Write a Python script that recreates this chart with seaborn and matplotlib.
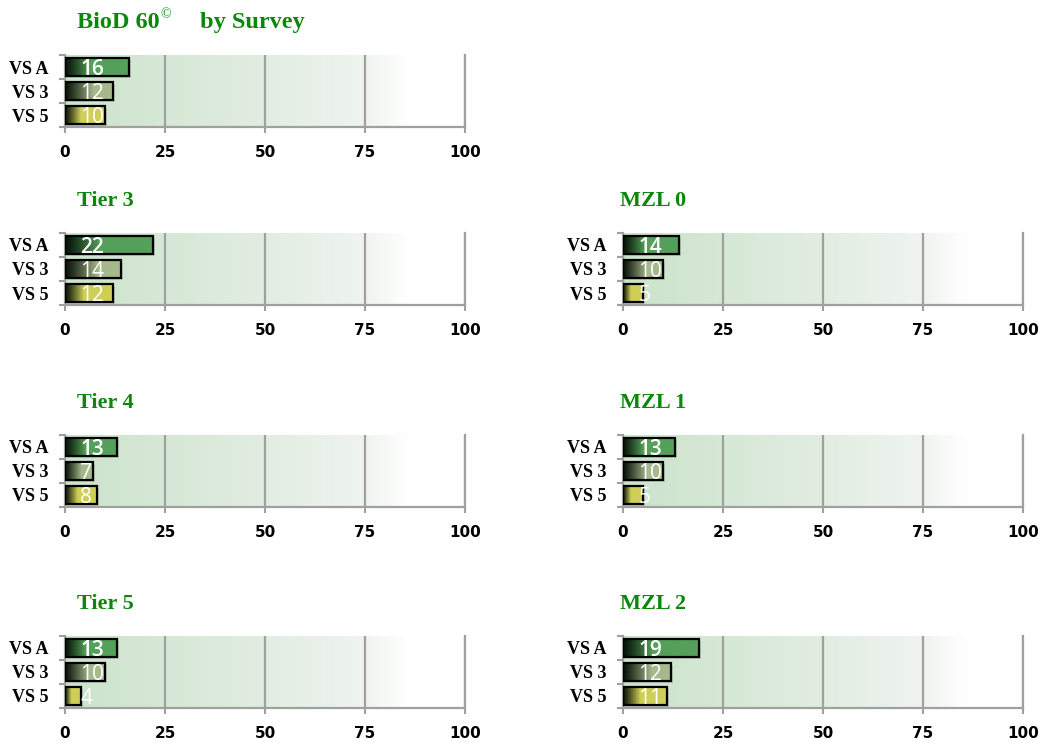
import numpy as np
import pandas as pd
import matplotlib
matplotlib.use("Agg")
import matplotlib.pyplot as plt
from matplotlib.patches import Rectangle
import seaborn as sns

# Survey groups shown on every panel (top to bottom)
categories = ["VS A", "VS 3", "VS 5"]

# Panel titles and the counts per survey group
panel_titles = ["BioD 60", "Tier 3", "MZL 0", "Tier 4", "MZL 1", "Tier 5", "MZL 2"]
biod60 = [16, 12, 10]
tier3 = [22, 14, 12]
mzl0 = [14, 10, 5]
tier4 = [13, 7, 8]
mzl1 = [13, 10, 5]
tier5 = [13, 10, 4]
mzl2 = [19, 12, 11]
panel_values = [biod60, tier3, mzl0, tier4, mzl1, tier5, mzl2]

x_ticks = [0, 25, 50, 75, 100]

sns.set_style("white")
plt.rcParams["font.family"] = ["DejaVu Sans"]

W, H = 1044, 744
fig = plt.figure(figsize=(W / 100, H / 100), dpi=100)

# layout in pixels: (left, top) of each plot area
col_left = [65, 623]
row_top = [55, 233, 435, 636]
ax_w, ax_h = 400, 72
grid_pos = [(0, 0), (0, 1), (1, 1), (0, 2), (1, 2), (0, 3), (1, 3)]

bar_colors = ["#55a05a", "#a6b98c", "#cfcf58"]
ramp_frac = [0.4, 0.6, 0.4]
title_green = "#0b870b"
axis_gray = "#a0a0a0"

# soft green wash behind the bars, fading to white on the right
t = np.linspace(0, 1, 512)
anchors = [0, 0.25, 0.5, 0.75, 0.86, 1.0]
bg = np.stack([
    np.interp(t, anchors, [203, 214, 226, 239, 255, 255]),
    np.interp(t, anchors, [227, 232, 237, 244, 255, 255]),
    np.interp(t, anchors, [203, 214, 226, 239, 255, 255]),
], axis=-1)[None, :, :] / 255.0


def bar_gradient(color, frac):
    rgb = np.array(matplotlib.colors.to_rgb(color))
    dark = np.array([0.02, 0.06, 0.02])
    m = np.clip(t / frac, 0, 1) ** 1.1
    arr = dark[None, :] * (1 - m[:, None]) + rgb[None, :] * m[:, None]
    return arr[None, :, :]


for (col, row), title, vals in zip(grid_pos, panel_titles, panel_values):
    left = col_left[col]
    top = row_top[row]
    ax = fig.add_axes([left / W, 1 - (top + ax_h) / H, ax_w / W, ax_h / H])

    df = pd.DataFrame({"survey": categories, "count": vals})
    sns.barplot(data=df, x="count", y="survey", hue="survey", palette=bar_colors,
                order=categories, hue_order=categories, legend=False, orient="h",
                width=0.75, edgecolor="black", linewidth=1.6, ax=ax, zorder=3)

    ax.set_xlim(0, 100)
    ax.set_ylim(2.5, -0.5)
    ax.imshow(bg, extent=[0, 100, 2.5, -0.5], aspect="auto", zorder=0,
              interpolation="bilinear")

    # gradient fill + soft shadow for each bar
    for i, patch in enumerate(ax.patches[:len(categories)]):
        x0, y0 = patch.get_x(), patch.get_y()
        w, h = patch.get_width(), patch.get_height()
        shadow = Rectangle((x0 + 0.5, y0 + 0.1), w, h, facecolor="#000000",
                           alpha=0.12, edgecolor="none", zorder=2)
        ax.add_patch(shadow)
        img = ax.imshow(bar_gradient(bar_colors[i], ramp_frac[i]),
                        extent=[x0, x0 + w, y0 + h, y0], aspect="auto",
                        zorder=3.5, interpolation="bilinear")
        img.set_clip_path(patch)
        patch.set_facecolor("none")
        patch.set_zorder(4)

    ax.set_xlim(0, 100)
    ax.set_ylim(2.5, -0.5)

    for i, v in enumerate(vals):
        ax.text(3.8, i + 0.1, str(v), color="white", fontsize=15,
                family=["Open Sans", "DejaVu Sans"],
                fontweight="semibold" if i == 0 else "normal",
                ha="left", va="center", zorder=6)

    # axes styling
    ax.set_xlabel("")
    ax.set_ylabel("")
    ax.set_xticks(x_ticks)
    ax.set_xticklabels([str(x) for x in x_ticks], fontsize=11,
                       fontweight="bold", family="DejaVu Sans", color="black")
    ax.set_yticks(range(len(categories)))
    ax.set_yticklabels(categories, fontsize=13, fontweight="bold",
                       family="Liberation Serif", color="black")
    ax.set_yticks([-0.5, 0.5, 1.5, 2.5], minor=True)
    ax.tick_params(axis="y", which="major", left=True, length=0, pad=12)
    ax.tick_params(axis="y", which="minor", left=True, length=4, width=1.5,
                   color=axis_gray, direction="out")
    ax.tick_params(axis="x", which="major", bottom=True, length=4, width=1.5,
                   color=axis_gray, direction="out", pad=9)
    ax.grid(axis="x", color=axis_gray, linewidth=1.6, zorder=1)
    ax.set_axisbelow(True)
    for side in ["left", "bottom", "right"]:
        ax.spines[side].set_visible(True)
        ax.spines[side].set_color(axis_gray)
        ax.spines[side].set_linewidth(1.6)
    ax.spines["top"].set_visible(False)

    # panel title
    tx = 77 if col == 0 else 620
    ty = 1 - (top - 27) / H
    if row == 0:
        fig.text(tx / W, ty, title, color=title_green, fontsize=17.5,
                 fontweight="bold", family="Liberation Serif", va="baseline")
        fig.text(160 / W, 1 - (top - 37) / H, "©", color=title_green,
                 fontsize=10, family="Liberation Serif", va="baseline")
        fig.text(200 / W, ty, "by Survey", color=title_green, fontsize=17.5,
                 fontweight="bold", family="Liberation Serif", va="baseline")
    else:
        fig.text(tx / W, ty, title, color=title_green, fontsize=16,
                 fontweight="bold", family="Liberation Serif", va="baseline")

fig.savefig("out.png", dpi=100, facecolor="white")
